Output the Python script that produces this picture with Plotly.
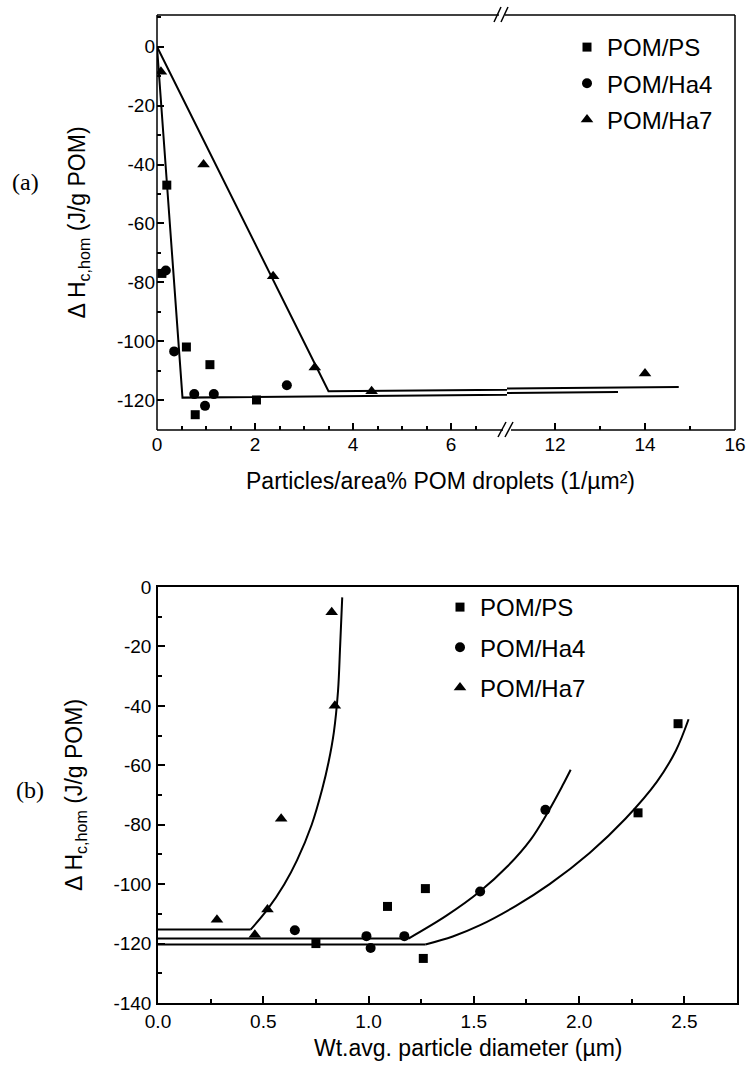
import plotly.graph_objects as go

# ---------------- data: panel (a) ----------------
a_ps_x = [0.10, 0.20, 0.60, 0.78, 1.08, 2.03]
a_ps_y = [-77, -47, -102, -125, -108, -120]
a_ha4_x = [0.18, 0.35, 0.76, 0.98, 1.16, 2.65]
a_ha4_y = [-76, -103.5, -118, -122, -118, -115]
a_ha7_x = [0.08, 0.95, 2.37, 3.22, 4.38, 14.0]
a_ha7_y = [-8.5, -40, -78, -109, -117, -111]
a_fit1_x = [0, 0.52, 13.4]
a_fit1_y = [0, -119.2, -117.3]
a_fit2_x = [0, 3.5, 14.75]
a_fit2_y = [0, -117, -115.6]

# ---------------- data: panel (b) ----------------
b_ps_x = [0.75, 1.09, 1.26, 1.27, 2.28, 2.47]
b_ps_y = [-120, -107.5, -125, -101.5, -76, -46]
b_ha4_x = [0.65, 0.99, 1.01, 1.17, 1.53, 1.84]
b_ha4_y = [-115.5, -117.5, -121.5, -117.5, -102.5, -75]
b_ha7_x = [0.28, 0.46, 0.52, 0.585, 0.84, 0.825]
b_ha7_y = [-112, -117, -108.5, -78, -40, -8.5]
b_fit_ps_x = [0, 1.27, 1.40, 1.53, 1.70, 1.86, 2.05, 2.22, 2.37, 2.46, 2.52]
b_fit_ps_y = [-120.3, -120.3, -117.6, -113.8, -107.3, -100, -89.5, -78, -65.5, -55, -44.5]
b_fit_ha4_x = [0, 1.19, 1.37, 1.53, 1.66, 1.77, 1.85, 1.92, 1.96]
b_fit_ha4_y = [-118.3, -118.3, -110.6, -102.4, -94, -85, -76, -67, -61.5]
b_fit_ha7_x = [0, 0.44, 0.52, 0.60, 0.66, 0.73, 0.78, 0.81, 0.835, 0.855, 0.865, 0.875]
b_fit_ha7_y = [-115.3, -115.3, -108.5, -100, -92, -80, -68, -59, -49, -35, -20, -3.5]

names = ["POM/PS", "POM/Ha4", "POM/Ha7"]
symbols = ["square", "circle", "triangle-up"]
sizes = [9, 10, 11]

a_yticks = [0, -20, -40, -60, -80, -100, -120]
b_yticks = [0, -20, -40, -60, -80, -100, -120, -140]
a_x1ticks = [0, 2, 4, 6]
a_x2ticks = [12, 14, 16]
b_xticks = [0, 0.5, 1.0, 1.5, 2.0, 2.5]

W, H = 750, 1068
def fx(px): return px / W
def fy(py): return 1 - py / H

FONT = "Liberation Sans, Arial, sans-serif"
fig = go.Figure()

# ---- panel (a) ----
aX = [(a_ps_x, a_ps_y), (a_ha4_x, a_ha4_y), (a_ha7_x, a_ha7_y)]
for i, (xs, ys) in enumerate(aX):
    for xa in ["x", "x2"]:
        fig.add_trace(go.Scatter(
            x=xs, y=ys, mode="markers", xaxis=xa, yaxis="y",
            marker=dict(symbol=symbols[i], size=sizes[i], color="black"),
            name=names[i], legend="legend", legendgroup="a" + names[i],
            showlegend=(xa == "x"), cliponaxis=True))
for fxs, fys in [(a_fit1_x, a_fit1_y), (a_fit2_x, a_fit2_y)]:
    for xa in ["x", "x2"]:
        fig.add_trace(go.Scatter(x=fxs, y=fys, mode="lines", xaxis=xa, yaxis="y",
                                 line=dict(color="black", width=2), showlegend=False))

# ---- panel (b) ----
bX = [(b_ps_x, b_ps_y), (b_ha4_x, b_ha4_y), (b_ha7_x, b_ha7_y)]
for i, (xs, ys) in enumerate(bX):
    fig.add_trace(go.Scatter(
        x=xs, y=ys, mode="markers", xaxis="x3", yaxis="y3",
        marker=dict(symbol=symbols[i], size=sizes[i], color="black"),
        name=names[i], legend="legend2", legendgroup="b" + names[i]))
for fxs, fys in [(b_fit_ps_x, b_fit_ps_y), (b_fit_ha4_x, b_fit_ha4_y), (b_fit_ha7_x, b_fit_ha7_y)]:
    fig.add_trace(go.Scatter(x=fxs[:2], y=fys[:2], mode="lines", xaxis="x3", yaxis="y3",
                             line=dict(color="black", width=2), showlegend=False))
    fig.add_trace(go.Scatter(x=fxs[1:], y=fys[1:], mode="lines", xaxis="x3", yaxis="y3",
                             line=dict(color="black", width=2, shape="spline", smoothing=1.0),
                             showlegend=False))

tickfont = dict(family=FONT, size=19, color="black")
common = dict(ticks="inside", ticklen=7, tickwidth=1.5, tickcolor="black",
              tickfont=tickfont, showgrid=False, zeroline=False, automargin=False,
              ticklabeloverflow="allow")

L1, R1, T1, B1, BRK = 157, 735, 15, 430, 507
L2, R2, T2, B2 = 158, 737, 587, 1003

titlefont = dict(family=FONT, size=23, color="black")

fig.update_layout(
    width=W, height=H, autosize=False,
    margin=dict(l=0, r=0, t=0, b=0),
    paper_bgcolor="white", plot_bgcolor="white",
    xaxis=dict(domain=[fx(L1), fx(BRK)], range=[0, (BRK - L1) / 49.0], anchor="y",
               tickvals=a_x1ticks, ticktext=[str(v) for v in a_x1ticks], showline=False,
               ticklabelstandoff=1,
               minor=dict(ticks="inside", ticklen=4, tickcolor="black",
                          tickvals=[0.5, 1, 1.5, 2.5, 3, 3.5, 4.5, 5, 5.5, 6.5]),
               **common),
    xaxis2=dict(domain=[fx(BRK), fx(R1)], range=[16 - (R1 - BRK) / 45.0, 16], anchor="y",
                tickvals=a_x2ticks, ticktext=[str(v) for v in a_x2ticks], showline=False,
                ticklabelstandoff=1,
                minor=dict(ticks="inside", ticklen=4, tickcolor="black", tickvals=[13, 15]),
                **common),
    yaxis=dict(domain=[fy(B1), fy(T1)], range=[-130.2, 10.8], anchor="x",
               tickvals=a_yticks, ticktext=[str(v) for v in a_yticks], showline=False,
               ticklabelstandoff=1,
               minor=dict(ticks="inside", ticklen=4, tickcolor="black", dtick=10),
               title=dict(text="Δ H<sub>c,hom</sub> (J/g POM)", standoff=24, font=titlefont),
               **common),
    xaxis3=dict(domain=[fx(L2), fx(R2)], range=[0, 2.75], anchor="y3",
                tickvals=b_xticks, ticktext=["%.1f" % v for v in b_xticks],
                showline=True, mirror=True, linecolor="black", linewidth=1.5,
                ticklabelstandoff=0,
                minor=dict(ticks="inside", ticklen=4, tickcolor="black", dtick=0.25),
                **common),
    yaxis3=dict(domain=[fy(B2), fy(T2)], range=[-140, 0], anchor="x3",
                tickvals=b_yticks, ticktext=[str(v) for v in b_yticks],
                showline=True, mirror=True, linecolor="black", linewidth=1.5,
                ticklabelstandoff=1,
                minor=dict(ticks="inside", ticklen=4, tickcolor="black", dtick=10),
                title=dict(text="Δ H<sub>c,hom</sub> (J/g POM)", standoff=24, font=titlefont),
                **common),
    legend=dict(x=fx(567), y=fy(25), xanchor="left", yanchor="top",
                font=dict(family=FONT, size=24, color="black"),
                bgcolor="rgba(0,0,0,0)", tracegroupgap=2, itemsizing="trace"),
    legend2=dict(x=fx(440), y=fy(585), xanchor="left", yanchor="top",
                 font=dict(family=FONT, size=24, color="black"),
                 bgcolor="rgba(0,0,0,0)", tracegroupgap=6, itemsizing="trace"),
)

# frame of panel (a) with axis break marks
lw = 1.5
segs = [
    (L1, B1, BRK - 4, B1), (BRK + 4, B1, R1, B1),
    (L1, T1, BRK - 8, T1), (BRK - 2, T1, R1, T1),
    (L1, T1, L1, B1), (R1, T1, R1, B1),
    (BRK - 9, B1 + 7, BRK - 1, B1 - 8), (BRK - 2, B1 + 7, BRK + 6, B1 - 8),
    (BRK - 13, T1 + 7, BRK - 6, T1 - 8), (BRK - 6, T1 + 7, BRK + 1, T1 - 8),
]
for x0, y0, x1, y1 in segs:
    fig.add_shape(type="line", xref="paper", yref="paper",
                  x0=fx(x0), y0=fy(y0), x1=fx(x1), y1=fy(y1),
                  line=dict(color="black", width=lw))

fig.add_annotation(text="Particles/area% POM droplets (1/µm²)", xref="paper", yref="paper",
                   x=fx(440), y=fy(481), showarrow=False, xanchor="center", yanchor="middle",
                   font=titlefont)
fig.add_annotation(text="Wt.avg. particle diameter (µm)", xref="paper", yref="paper",
                   x=fx(468), y=fy(1048), showarrow=False, xanchor="center", yanchor="middle",
                   font=titlefont)
fig.add_annotation(text="(a)", xref="paper", yref="paper", x=fx(25), y=fy(182),
                   showarrow=False, xanchor="center", yanchor="middle",
                   font=dict(family="Liberation Serif, Times New Roman, serif", size=24, color="black"))
fig.add_annotation(text="(b)", xref="paper", yref="paper", x=fx(30), y=fy(790),
                   showarrow=False, xanchor="center", yanchor="middle",
                   font=dict(family="Liberation Serif, Times New Roman, serif", size=24, color="black"))

fig.write_html("out.html", config={"displayModeBar": False},
               post_script="document.body.style.margin='0';document.body.style.padding='0';")
